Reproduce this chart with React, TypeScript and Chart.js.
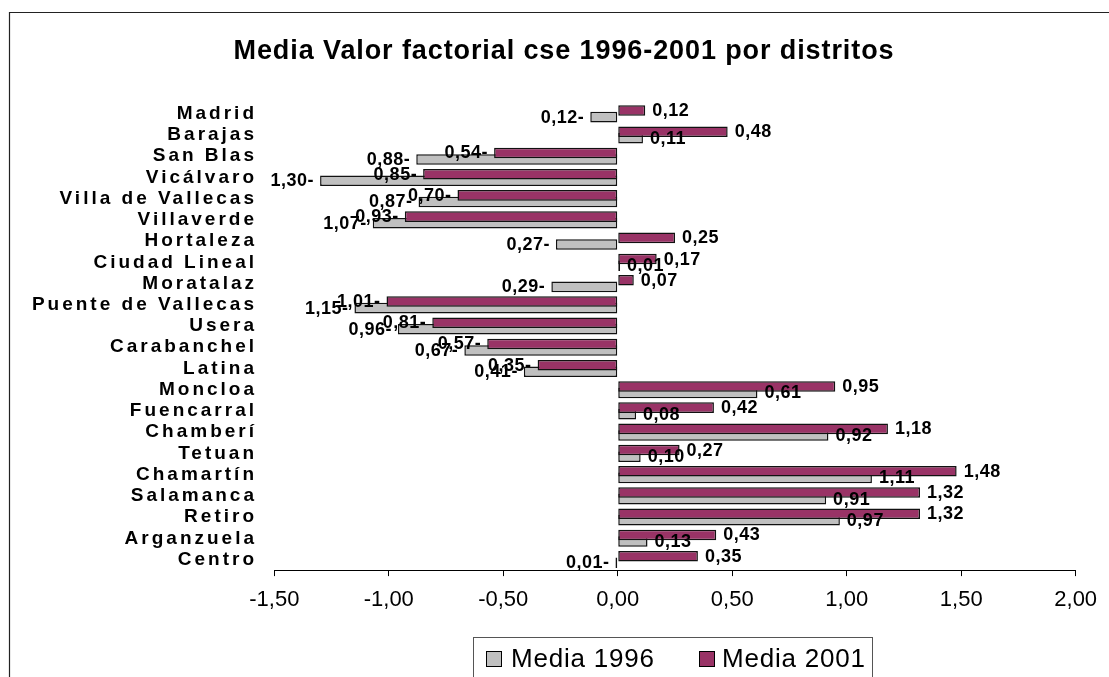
import React, { useEffect, useRef } from 'react';
import { Chart, registerables } from 'chart.js';

Chart.register(...registerables);

const categories = ['Madrid', 'Barajas', 'San Blas', 'Vicálvaro', 'Villa de Vallecas', 'Villaverde', 'Hortaleza', 'Ciudad Lineal', 'Moratalaz', 'Puente de Vallecas', 'Usera', 'Carabanchel', 'Latina', 'Moncloa', 'Fuencarral', 'Chamberí', 'Tetuan', 'Chamartín', 'Salamanca', 'Retiro', 'Arganzuela', 'Centro'];
const media1996 = [-0.12, 0.11, -0.88, -1.30, -0.87, -1.07, -0.27, 0.01, -0.29, -1.15, -0.96, -0.67, -0.41, 0.61, 0.08, 0.92, 0.10, 1.11, 0.91, 0.97, 0.13, -0.01];
const media2001 = [0.12, 0.48, -0.54, -0.85, -0.70, -0.93, 0.25, 0.17, 0.07, -1.01, -0.81, -0.57, -0.35, 0.95, 0.42, 1.18, 0.27, 1.48, 1.32, 1.32, 0.43, 0.35];
const xMin = -1.5;
const xMax = 2.0;
const xStep = 0.5;
const chartTitle = 'Media Valor factorial cse 1996-2001 por distritos';
const seriesNames = ['Media 1996', 'Media 2001'];
const seriesColors = ['#C0C0C0', '#993366'];

const FONT = '"Liberation Sans", Arial, Helvetica, sans-serif';

const fmtLabel = (v: number) => Math.abs(v).toFixed(2).replace('.', ',') + (v < 0 ? '-' : '');
const fmtTick = (v: number) => Number(v).toFixed(2).replace('.', ',');

const decorPlugin = {
  id: 'decor',
  afterDraw(chart: any) {
    const ctx = chart.ctx as CanvasRenderingContext2D;
    const yScale = chart.scales.y;
    ctx.save();

    // outer frame
    ctx.strokeStyle = '#222';
    ctx.lineWidth = 1.2;
    ctx.beginPath();
    ctx.moveTo(9.5, 700);
    ctx.lineTo(9.5, 12.5);
    ctx.lineTo(1120, 12.5);
    ctx.stroke();

    // title
    ctx.fillStyle = '#000';
    ctx.font = `bold 27px ${FONT}`;
    (ctx as any).letterSpacing = '0.9px';
    ctx.textAlign = 'center';
    ctx.textBaseline = 'alphabetic';
    ctx.fillText(chartTitle, 564, 58.5);

    // category labels
    ctx.font = `bold 19px ${FONT}`;
    (ctx as any).letterSpacing = '3px';
    ctx.textAlign = 'right';
    ctx.textBaseline = 'middle';
    categories.forEach((c, i) => {
      const y = yScale.getPixelForValue(i);
      ctx.fillText(c, 257, y);
    });

    // data labels
    ctx.font = `bold 18px ${FONT}`;
    (ctx as any).letterSpacing = '0.5px';
    ctx.textBaseline = 'middle';
    chart.data.datasets.forEach((ds: any, di: number) => {
      const meta = chart.getDatasetMeta(di);
      meta.data.forEach((el: any, i: number) => {
        const v = ds.data[i];
        const { x, y } = el.getProps(['x', 'y'], true);
        if (v < 0) {
          ctx.textAlign = 'right';
          ctx.fillText(fmtLabel(v), x - 6, y + 0.5);
        } else {
          ctx.textAlign = 'left';
          ctx.fillText(fmtLabel(v), x + 7, y + 0.5);
        }
      });
    });

    // legend
    (ctx as any).letterSpacing = '0px';
    ctx.strokeStyle = '#555';
    ctx.lineWidth = 1;
    ctx.strokeRect(473.5, 637.5, 399, 60);
    const items = [
      { sq: 486, tx: 511, name: seriesNames[0], color: seriesColors[0] },
      { sq: 699, tx: 722, name: seriesNames[1], color: seriesColors[1] },
    ];
    ctx.font = `26px ${FONT}`;
    (ctx as any).letterSpacing = '0.8px';
    ctx.textAlign = 'left';
    ctx.textBaseline = 'alphabetic';
    items.forEach((it) => {
      ctx.fillStyle = it.color;
      ctx.fillRect(it.sq, 651, 16, 16);
      ctx.strokeStyle = '#000';
      ctx.lineWidth = 1;
      ctx.strokeRect(it.sq + 0.5, 651.5, 15, 15);
      ctx.fillStyle = '#000';
      ctx.fillText(it.name, it.tx, 666.5);
    });

    ctx.restore();
  },
};

export default function App() {
  const ref = useRef<HTMLCanvasElement | null>(null);

  useEffect(() => {
    document.body.style.margin = '0';
    const canvas = ref.current;
    if (!canvas) return;
    const chart = new Chart(canvas, {
      type: 'bar',
      data: {
        labels: categories,
        datasets: [
          {
            label: seriesNames[1],
            data: media2001,
            backgroundColor: seriesColors[1],
            borderColor: '#111',
            borderWidth: 1.5,
            borderSkipped: false,
          },
          {
            label: seriesNames[0],
            data: media1996,
            backgroundColor: seriesColors[0],
            borderColor: '#111',
            borderWidth: 1.5,
            borderSkipped: false,
          },
        ],
      },
      options: {
        indexAxis: 'y',
        responsive: false,
        animation: false,
        devicePixelRatio: 1,
        categoryPercentage: 0.622,
        barPercentage: 1.6,
        layout: {
          padding: { left: 274.3, right: 33.3, top: 103.2, bottom: 66.9 },
        },
        plugins: {
          legend: { display: false },
          title: { display: false },
          tooltip: { enabled: false },
        },
        scales: {
          x: {
            type: 'linear',
            position: 'bottom',
            min: xMin,
            max: xMax,
            afterFit: (scale: any) => {
              scale.height = 40;
            },
            ticks: {
              stepSize: xStep,
              padding: 11,
              color: '#000',
              font: { family: FONT, size: 22 },
              callback: (v: any) => fmtTick(v),
              maxRotation: 0,
              autoSkip: false,
            },
            grid: {
              drawOnChartArea: false,
              drawTicks: true,
              tickLength: 6,
              color: '#000',
              lineWidth: 1,
            },
            border: { display: true, color: '#000', width: 1 },
          },
          y: {
            type: 'category',
            display: false,
            grid: { display: false },
          },
        },
      } as any,
      plugins: [decorPlugin],
    });
    return () => chart.destroy();
  }, []);

  return (
    <canvas
      ref={ref}
      width={1109}
      height={677}
      style={{ display: 'block', width: '1109px', height: '677px' }}
    />
  );
}
